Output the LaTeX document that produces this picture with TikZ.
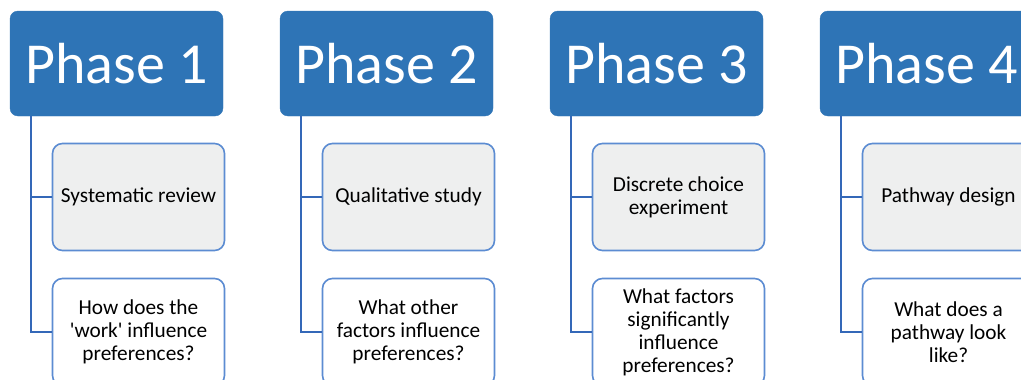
\documentclass[tikz,border=0pt]{standalone}
\usepackage{fontspec}
\usetikzlibrary{calc}
\newfontfamily\carl{Carlito}
\definecolor{hdr}{RGB}{46,116,182}
\definecolor{bord}{RGB}{92,140,210}
\definecolor{conn}{RGB}{52,104,184}
\definecolor{boxfill}{RGB}{238,239,239}
\tikzset{
  phasebox/.style={rectangle, rounded corners=8pt, fill=hdr, draw=hdr, text=white,
    minimum width=213pt, minimum height=105pt, inner sep=0pt,
    font=\carl\fontsize{58}{60}\selectfont},
  subbox/.style={rectangle, rounded corners=10pt, draw=bord, line width=1.6pt,
    minimum width=172pt, minimum height=107pt, inner sep=0pt, align=center,
    font=\carl\fontsize{21.3}{23}\selectfont},
  greybox/.style={subbox, fill=boxfill},
  whitebox/.style={subbox, fill=white},
  link/.style={draw=conn, line width=1.8pt}
}
\begin{document}
\begin{tikzpicture}[x=1pt,y=-1pt]
\useasboundingbox (0,0) rectangle (1021,380);
\clip (0,0) rectangle (1021,380);
\foreach \i/\top/\bot [count=\n] in {
  0/{Systematic review}/{How does the\\'work' influence\\preferences?},
  270/{Qualitative study}/{What other\\factors influence\\preferences?},
  540/{Discrete choice\\experiment}/{What factors\\significantly\\influence\\preferences?},
  810/{Pathway design}/{What does a\\pathway look\\like?}} {
  \node[phasebox] (h\n) at (116.5+\i,63.5) {Phase \n};
  \node[greybox] (a\n) at (138.5+\i,197) {\top};
  \node[whitebox] (b\n) at (138.5+\i,332) {\bot};
  \coordinate (c\n) at ($(h\n.south west)+(21,0)$);
  \draw[link] (c\n) |- (b\n.west);
  \draw[link] (c\n |- a\n.west) -- (a\n.west);
}
\end{tikzpicture}
\end{document}
